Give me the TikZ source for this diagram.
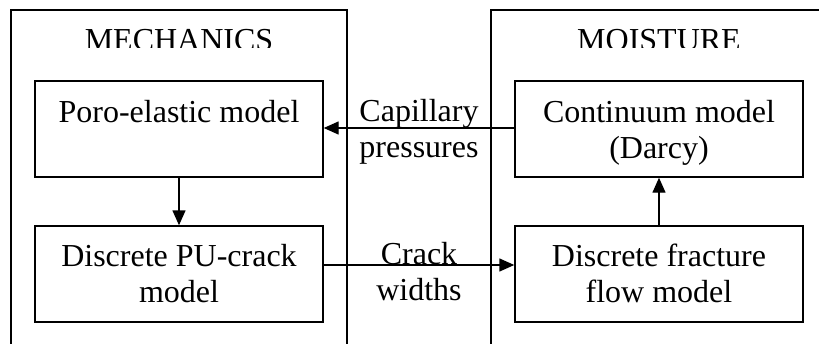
\documentclass[tikz,border=0pt]{standalone}
\usepackage{fontspec}
\setmainfont{Liberation Serif}
\usetikzlibrary{arrows.meta}
\begin{document}
\begin{tikzpicture}[x=1pt,y=-1pt,
  line width=1.4pt,
  modelbox/.style={draw, rectangle, minimum width=288pt, minimum height=96pt, inner sep=0pt},
  txt/.style={anchor=base, inner sep=0pt, font=\fontsize{32}{36}\selectfont},
  flow/.style={-{Triangle[length=15pt,width=13pt]}}]
\useasboundingbox (0,0) rectangle (819,343);
\clip (0,0) rectangle (819,343);

% outer panels (open at the bottom)
\draw (11,345) -- (11,10) -- (347,10) -- (347,345);
\draw (491,345) -- (491,10) -- (821,10);

% panel titles
\begin{scope}
  \clip (0,0) rectangle (819,47.5);
  \node[txt] (tmech) at (179,50) {MECHANICS};
  \node[txt] (tmoist) at (659,50) {MOISTURE};
\end{scope}

% model boxes
\node[modelbox] (poro) at (179,129) {};
\node[modelbox] (pucrack) at (179,274) {};
\node[modelbox] (darcy) at (659,129) {};
\node[modelbox] (frac) at (659,274) {};

% box texts
\node[txt] (tporo) at (179,122) {Poro-elastic model};
\node[txt] (tpu1) at (179,266) {Discrete PU-crack};
\node[txt] (tpu2) at (179,302) {model};
\node[txt] (tda1) at (659,122) {Continuum model};
\node[txt] (tda2) at (659,158) {(Darcy)};
\node[txt] (tfr1) at (659,266) {Discrete fracture};
\node[txt] (tfr2) at (659,302) {flow model};

% connector labels
\node[txt] (lcap1) at (419,121) {Capillary};
\node[txt] (lcap2) at (419,157) {pressures};
\node[txt] (lcr1) at (419,264) {Crack};
\node[txt] (lcr2) at (419,300) {widths};

% connectors
\draw[flow] (poro.south) -- (pucrack.north);
\draw[flow] (frac.north) -- (darcy.south);
\draw[flow] (darcy.west |- 0,128) -- (poro.east |- 0,128);
\draw[flow] (pucrack.east |- 0,265) -- (frac.west |- 0,265);
\end{tikzpicture}
\end{document}
